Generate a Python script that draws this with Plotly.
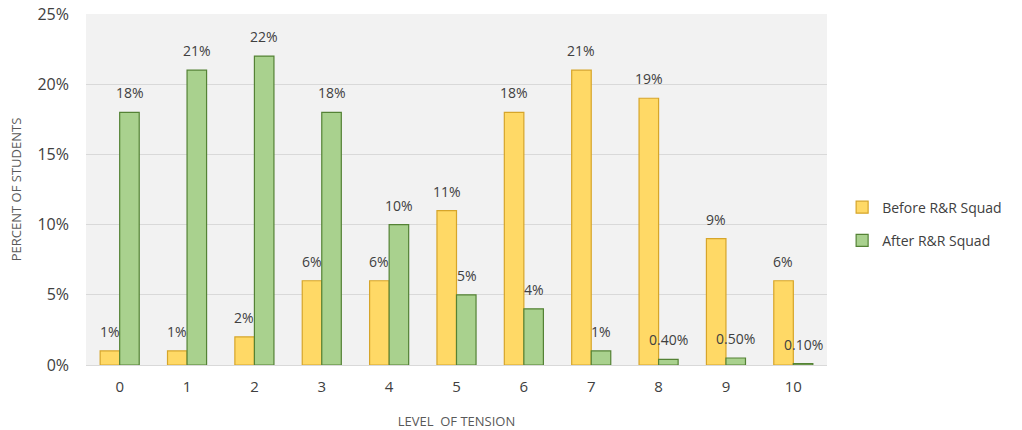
import plotly.graph_objects as go

levels = ["0", "1", "2", "3", "4", "5", "6", "7", "8", "9", "10"]
before = [1, 1, 2, 6, 6, 11, 18, 21, 19, 9, 6]
after = [18, 21, 22, 18, 10, 5, 4, 1, 0.4, 0.5, 0.1]
before_labels = ["1%", "1%", "2%", "6%", "6%", "11%", "18%", "21%", "19%", "9%", "6%"]
after_labels = ["18%", "21%", "22%", "18%", "10%", "5%", "4%", "1%", "0.40%", "0.50%", "0.10%"]

FONT = "Open Sans"
fig = go.Figure()
fig.add_trace(go.Bar(
    x=levels, y=before, name="Before R&R Squad", legendgroup="b",
    marker=dict(color="#FFD966", line=dict(color="#D6A52A", width=1.2)),
))
fig.add_trace(go.Bar(
    x=levels, y=after, name="After R&R Squad", legendgroup="a",
    marker=dict(color="#A9D18E", line=dict(color="#548235", width=1.2)),
))

annotations = []
for vals, labels, dx in ((before, before_labels, -10), (after, after_labels, 10)):
    for lvl, v, lab in zip(levels, vals, labels):
        annotations.append(dict(
            x=lvl, y=v, text=lab, showarrow=False, xanchor="center", yanchor="bottom",
            xshift=dx, yshift=8, font=dict(family=FONT, size=14, color="#404040"),
        ))

fig.update_layout(
    width=1022, height=430,
    margin=dict(l=86, r=195, t=14, b=65, autoexpand=False),
    paper_bgcolor="white", plot_bgcolor="#F2F2F2",
    barmode="group", bargap=0.42, bargroupgap=0,
    font=dict(family=FONT, size=14, color="#595959"),
    annotations=annotations,
    legend=dict(xref="container", yref="container", x=0.824, y=0.479, xanchor="left", yanchor="middle",
                font=dict(family=FONT, size=14, color="#404040"),
                tracegroupgap=12, itemwidth=30),
    xaxis=dict(title=dict(text="LEVEL  OF TENSION", font=dict(size=13, color="#595959"), standoff=24),
               automargin=False, showgrid=False, showline=True, linecolor="#D9D9D9", ticks="",
               ticklabelstandoff=8, tickfont=dict(size=15, color="#404040")),
    yaxis=dict(title=dict(text="PERCENT OF STUDENTS", font=dict(size=13, color="#595959"), standoff=12),
               automargin=False, range=[0, 25], dtick=5, ticksuffix="%", gridcolor="#D9D9D9", gridwidth=1,
               zeroline=False, showline=False, ticklabelstandoff=16,
               tickfont=dict(size=16, color="#404040")),
)
fig.write_html("out.html")
